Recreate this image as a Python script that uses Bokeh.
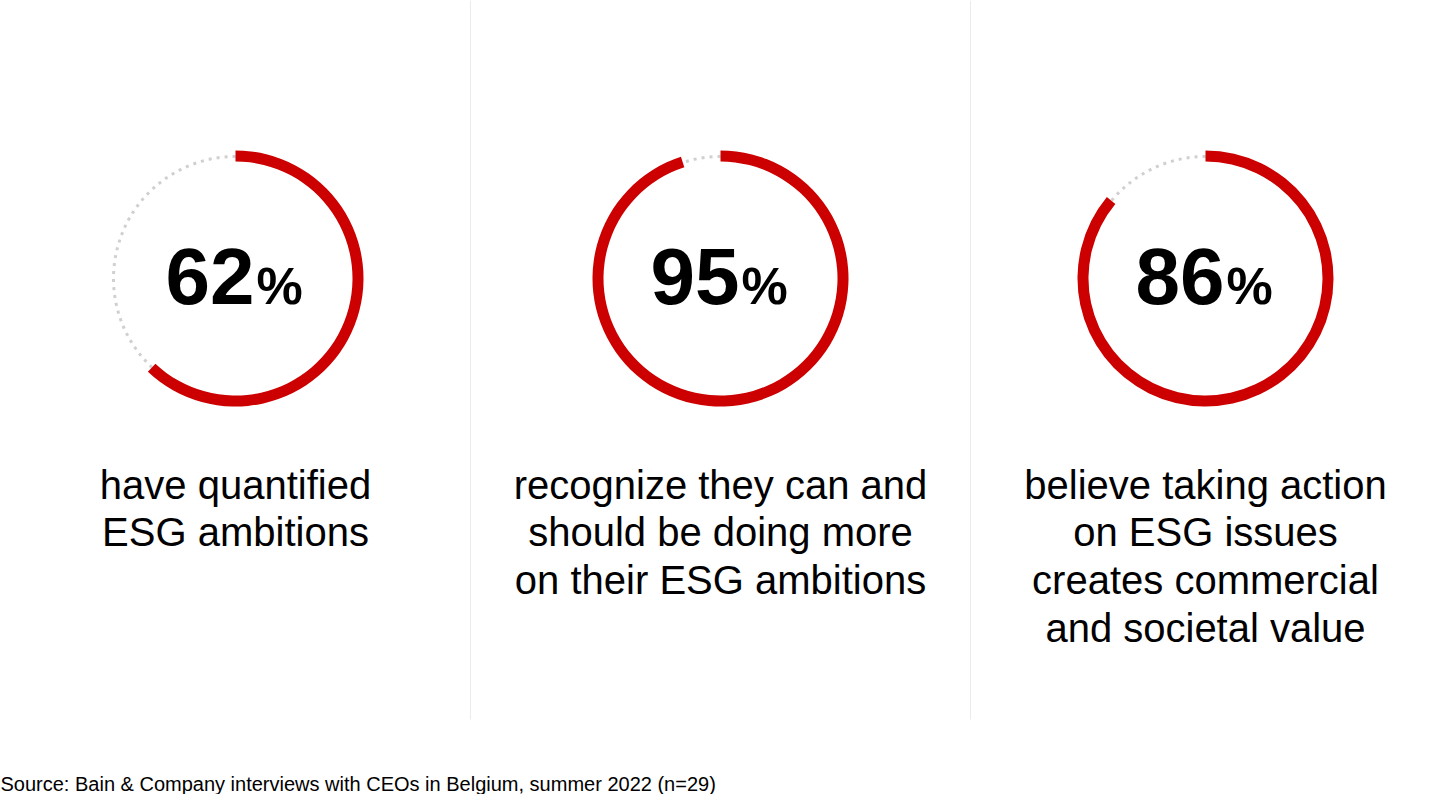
import math
from bokeh.plotting import figure
from bokeh.models import Range1d, ColumnDataSource
from bokeh.core.properties import value
from bokeh.embed import file_html
from bokeh.resources import INLINE

# ---- data ----
percents = [62, 95, 86]
labels = [
    ["have quantified", "ESG ambitions"],
    ["recognize they can and", "should be doing more", "on their ESG ambitions"],
    ["believe taking action", "on ESG issues", "creates commercial", "and societal value"],
]
source_note = "Source: Bain & Company interviews with CEOs in Belgium, summer 2022 (n=29)"

# ---- layout (pixels) ----
W, H = 1424, 794
centers_x = [235, 720, 1205]
center_y = 516
r_out, r_in = 128, 117
r_dot = 122
divider_x = [470, 970]
divider_bottom = 75
num_mid = 518
pct_mid = 509
num_split = 19
label_first_mid = 310
label_pitch = 47.7
FONT = value("Liberation Sans")
RED = "#cc0000"

p = figure(width=W, height=H, x_range=Range1d(0, W), y_range=Range1d(0, H),
           output_backend="svg", toolbar_location=None, min_border=0,
           x_axis_type=None, y_axis_type=None)
p.xgrid.visible = False
p.ygrid.visible = False
p.outline_line_color = None
p.background_fill_color = "white"
p.border_fill_color = "white"

# dividers
p.segment(x0=divider_x, y0=[H] * len(divider_x), x1=divider_x, y1=[divider_bottom] * len(divider_x),
          line_color="#ebebeb", line_width=1)

src = ColumnDataSource(dict(
    x=centers_x,
    y=[center_y] * 3,
    start=[math.radians(90 - 3.6 * v) for v in percents],
    end=[math.radians(90)] * 3,
    num=[str(v) for v in percents],
    pct=["%"] * 3,
    nx=[cx + num_split for cx in centers_x],
    ny=[num_mid] * 3,
    py=[pct_mid] * 3,
))

# remainder dotted arc
p.arc(x="x", y="y", radius=r_dot, start_angle="end", end_angle="start",
      direction="anticlock", line_color="#d0d0d0",
      line_width=3, line_dash="3 5", source=src)
# value arc
p.annular_wedge(x="x", y="y", inner_radius=r_in, outer_radius=r_out,
                start_angle="start", end_angle="end", direction="anticlock",
                fill_color=RED, line_color=None, source=src)

# big numbers
p.text(x="nx", y="ny", text="num", source=src, text_font=FONT, text_font_size="80px",
       text_font_style="bold", text_align="right", text_baseline="middle",
       text_color="black")
p.text(x="nx", y="py", text="pct", source=src, text_font=FONT, text_font_size="52px",
       text_font_style="bold", text_align="left", text_baseline="middle",
       text_color="black", x_offset=2)

# labels
lx, ly, lt = [], [], []
for cx, lines in zip(centers_x, labels):
    for k, line in enumerate(lines):
        lx.append(cx)
        ly.append(label_first_mid - k * label_pitch)
        lt.append(line)
p.text(x=lx, y=ly, text=lt, text_font=FONT, text_font_size="40px",
       text_align="center", text_baseline="middle", text_color="black")

# source note
p.text(x=[0], y=[11], text=[source_note], text_font=FONT, text_font_size="20px",
       text_align="left", text_baseline="middle", text_color="black")

open("out.html", "w").write(file_html(p, INLINE))
